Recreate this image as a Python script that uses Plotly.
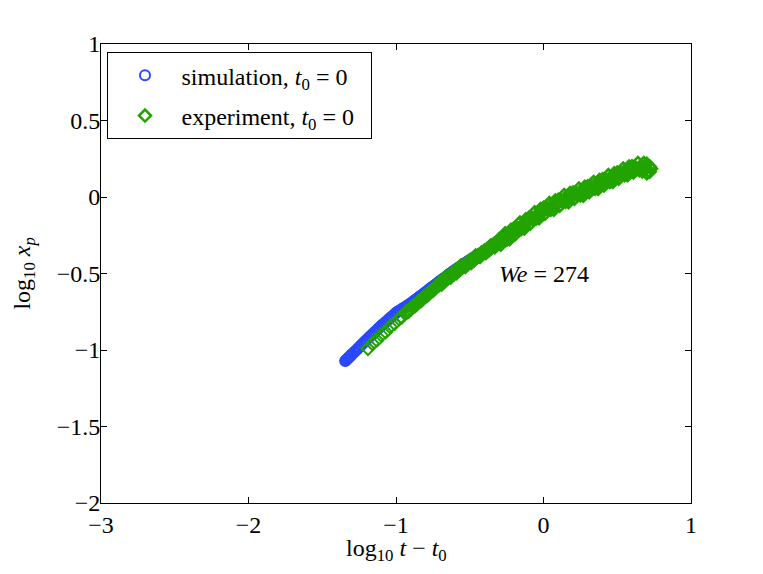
import plotly.graph_objects as go

# simulation (blue circles)
sim_x = [-1.345, -1.34, -1.335, -1.33, -1.325, -1.32, -1.315, -1.31, -1.305,
         -1.30, -1.29, -1.28, -1.27, -1.26, -1.25, -1.24, -1.23, -1.22, -1.21,
         -1.20, -1.19, -1.18, -1.17, -1.16, -1.15, -1.14, -1.13, -1.12, -1.11,
         -1.10, -1.09, -1.08, -1.07, -1.06, -1.05, -1.04, -1.03, -1.02, -1.01,
         -1.00, -0.99, -0.98, -0.97, -0.96, -0.95, -0.94, -0.93, -0.92, -0.91,
         -0.90, -0.89, -0.88, -0.87, -0.86, -0.85, -0.84, -0.83, -0.82, -0.81,
         -0.80, -0.79, -0.78, -0.77, -0.76, -0.75, -0.74, -0.73, -0.72, -0.71,
         -0.70, -0.69, -0.68, -0.67, -0.66, -0.65, -0.64, -0.63, -0.62, -0.61,
         -0.60, -0.59, -0.58, -0.57, -0.56, -0.55, -0.54, -0.53, -0.52, -0.51,
         -0.50, -0.49, -0.48, -0.47, -0.46, -0.45, -0.44, -0.43, -0.42, -0.41,
         -0.40, -0.39, -0.38, -0.37, -0.36, -0.35, -0.34, -0.33, -0.32, -0.31,
         -0.30, -0.29, -0.28, -0.27, -0.26, -0.25, -0.24, -0.23, -0.22]
sim_y = [-1.072, -1.068, -1.063, -1.058, -1.054, -1.049, -1.044, -1.040, -1.035,
         -1.030, -1.020, -1.011, -1.001, -0.992, -0.982, -0.972, -0.963, -0.953, -0.943,
         -0.934, -0.924, -0.915, -0.906, -0.897, -0.888, -0.879, -0.870, -0.860, -0.851,
         -0.842, -0.834, -0.825, -0.817, -0.808, -0.800, -0.791, -0.783, -0.774, -0.766,
         -0.757, -0.750, -0.744, -0.738, -0.732, -0.726, -0.720, -0.714, -0.708, -0.701,
         -0.695, -0.688, -0.680, -0.673, -0.666, -0.659, -0.651, -0.644, -0.637, -0.629,
         -0.622, -0.615, -0.607, -0.600, -0.592, -0.585, -0.578, -0.570, -0.563, -0.555,
         -0.548, -0.541, -0.534, -0.527, -0.520, -0.513, -0.505, -0.498, -0.491, -0.484,
         -0.477, -0.471, -0.464, -0.458, -0.451, -0.445, -0.438, -0.432, -0.425, -0.419,
         -0.412, -0.406, -0.400, -0.394, -0.388, -0.383, -0.377, -0.371, -0.365, -0.359,
         -0.353, -0.345, -0.338, -0.331, -0.324, -0.317, -0.309, -0.302, -0.295, -0.288,
         -0.280, -0.274, -0.267, -0.261, -0.254, -0.248, -0.241, -0.235, -0.228]

# experiment (green diamonds)
exp_x = [-1.19, -1.16, -1.13, -1.10, -1.07, -1.04, -1.01, -0.98, -0.96, -0.94, -0.93,
         -0.92, -0.91, -0.90, -0.89, -0.88, -0.87, -0.86, -0.85, -0.84, -0.83,
         -0.82, -0.81, -0.80, -0.79, -0.78, -0.77, -0.76, -0.75, -0.74, -0.73,
         -0.72, -0.71,
         -0.70, -0.69, -0.68, -0.67, -0.66, -0.65, -0.64, -0.63, -0.62, -0.61,
         -0.60, -0.59, -0.58, -0.57, -0.56, -0.55, -0.54, -0.53, -0.52, -0.51,
         -0.50, -0.49, -0.48, -0.47, -0.46, -0.45, -0.44, -0.43, -0.42, -0.41,
         -0.40, -0.39, -0.38, -0.37, -0.36, -0.35, -0.34, -0.33, -0.32, -0.31,
         -0.30, -0.29, -0.28, -0.27, -0.26, -0.25, -0.24, -0.23, -0.22, -0.21,
         -0.20, -0.19, -0.18, -0.17, -0.16, -0.15, -0.14, -0.13, -0.12, -0.11,
         -0.10, -0.09, -0.08, -0.07, -0.06, -0.05, -0.04, -0.03, -0.02, -0.01,
         0.00, 0.01, 0.02, 0.03, 0.04, 0.05, 0.06, 0.07, 0.08, 0.09,
         0.10, 0.11, 0.12, 0.13, 0.14, 0.15, 0.16, 0.17, 0.18, 0.19,
         0.20, 0.21, 0.22, 0.23, 0.24, 0.25, 0.26, 0.27, 0.28, 0.29,
         0.30, 0.31, 0.32, 0.33, 0.34, 0.35, 0.36, 0.37, 0.38, 0.39,
         0.40, 0.41, 0.42, 0.43, 0.44, 0.45, 0.46, 0.47, 0.48, 0.49,
         0.50, 0.51, 0.52, 0.53, 0.54, 0.55, 0.56, 0.57, 0.58, 0.59,
         0.60, 0.61, 0.62, 0.63, 0.64, 0.65, 0.66, 0.67, 0.68, 0.69,
         0.70, 0.71, 0.72, 0.73, 0.72, 0.70]
exp_y = [-0.990, -0.958, -0.936, -0.903, -0.882, -0.848, -0.827, -0.795, -0.785, -0.760, -0.750,
         -0.750, -0.744, -0.733, -0.717, -0.710, -0.711, -0.701, -0.684, -0.678, -0.679,
         -0.669, -0.652, -0.646, -0.646, -0.636, -0.618, -0.612, -0.612, -0.603, -0.585,
         -0.578, -0.578,
         -0.555, -0.573, -0.545, -0.553, -0.520, -0.533, -0.520, -0.528, -0.495, -0.503,
         -0.480, -0.498, -0.472, -0.480, -0.448, -0.462, -0.450, -0.458, -0.427, -0.435,
         -0.413, -0.432, -0.405, -0.414, -0.382, -0.396, -0.384, -0.393, -0.362, -0.370,
         -0.349, -0.367, -0.341, -0.350, -0.318, -0.332, -0.321, -0.329, -0.298, -0.306,
         -0.275, -0.313, -0.271, -0.284, -0.237, -0.280, -0.248, -0.276, -0.214, -0.237,
         -0.205, -0.243, -0.201, -0.214, -0.167, -0.210, -0.178, -0.207, -0.145, -0.168,
         -0.137, -0.175, -0.133, -0.147, -0.100, -0.143, -0.112, -0.140, -0.078, -0.102,
         -0.070, -0.110, -0.070, -0.084, -0.039, -0.084, -0.054, -0.084, -0.023, -0.048,
         -0.018, -0.058, -0.018, -0.032, 0.013, -0.032, -0.003, -0.034, 0.026, 0.000,
         0.029, -0.012, 0.027, 0.012, 0.056, 0.010, 0.039, 0.008, 0.067, 0.042,
         0.071, 0.030, 0.070, 0.054, 0.099, 0.053, 0.083, 0.052, 0.112, 0.086,
         0.116, 0.075, 0.115, 0.099, 0.144, 0.098, 0.127, 0.097, 0.156, 0.130,
         0.160, 0.119, 0.159, 0.143, 0.187, 0.142, 0.171, 0.141, 0.200, 0.173,
         0.201, 0.159, 0.196, 0.179, 0.222, 0.175, 0.201, 0.166, 0.222, 0.192,
         0.218, 0.170, 0.200, 0.185, 0.165, 0.155]

x_ticks = [-3, -2, -1, 0, 1]
y_ticks = [-2, -1.5, -1, -0.5, 0, 0.5, 1]
x_ticktext = ["\u22123", "\u22122", "\u22121", "0", "1"]
y_ticktext = ["\u22122", "\u22121.5", "\u22121", "\u22120.5", "0", "0.5", "1"]

FONT = "Liberation Serif"
BLUE = "#2a48ff"
GREEN = "#22a300"
PAD = "\u00a0\u00a0"

n_sparse = 33
exp_lw = [2.0] * n_sparse + [2.6] * (len(exp_x) - n_sparse)
exp_size = [10] * n_sparse + [9] * (len(exp_x) - n_sparse)

fig = go.Figure()
fig.add_trace(go.Scatter(
    x=sim_x, y=sim_y, mode="markers", legendgroup="sim",
    name="simulation, <i>t</i><sub>0</sub> = 0" + PAD,
    marker=dict(symbol="circle-open", size=10, color=BLUE, opacity=1,
                line=dict(width=2, color=BLUE)),
))
fig.add_trace(go.Scatter(
    x=exp_x, y=exp_y, mode="markers", legendgroup="exp",
    name="experiment, <i>t</i><sub>0</sub> = 0" + PAD,
    marker=dict(symbol="diamond-open", size=exp_size, color=GREEN, opacity=1,
                line=dict(width=exp_lw, color=GREEN)),
))

axis_common = dict(
    showline=True, linecolor="black", linewidth=1, mirror="ticks",
    ticks="inside", ticklen=6, tickwidth=1, tickcolor="black",
    showgrid=False, zeroline=False,
    tickfont=dict(family=FONT, size=24, color="black"),
)

fig.update_xaxes(range=[-3, 1], tickvals=x_ticks, ticktext=x_ticktext, **axis_common)
fig.update_yaxes(range=[-2, 1], tickvals=y_ticks, ticktext=y_ticktext,
                 ticklabelstandoff=-5, **axis_common)

# axis titles
fig.add_annotation(x=0.5, y=-0.066, xref="paper", yref="paper",
                   text="log<sub>10</sub> <i>t</i> \u2212 <i>t</i><sub>0</sub>",
                   showarrow=False, xanchor="center", yanchor="top",
                   font=dict(family=FONT, size=24, color="black"))
fig.add_annotation(x=-0.132, y=0.5, xref="paper", yref="paper",
                   text="log<sub>10</sub> <i>x</i><sub><i>p</i></sub>", textangle=-90,
                   showarrow=False, xanchor="center", yanchor="middle",
                   font=dict(family=FONT, size=24, color="black"))

fig.add_annotation(x=0.0, y=-0.5, xref="x", yref="y", text="<i>We</i> = 274",
                   showarrow=False, xanchor="center", yanchor="middle",
                   font=dict(family=FONT, size=24, color="black"))

fig.update_layout(
    width=755, height=566,
    margin=dict(l=93, r=72, t=36, b=71),
    paper_bgcolor="white", plot_bgcolor="white",
    font=dict(family=FONT, size=24, color="black"),
    legend=dict(x=0.011, y=0.982, xanchor="left", yanchor="top",
                bordercolor="black", borderwidth=1, bgcolor="white",
                font=dict(family=FONT, size=24, color="black"),
                itemwidth=63, tracegroupgap=6),
    showlegend=True,
)

fig.write_html("out.html")
